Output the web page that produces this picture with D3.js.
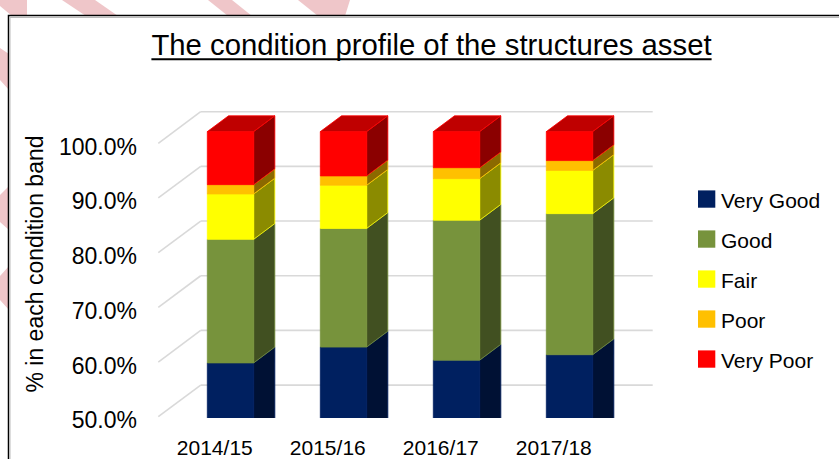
<!DOCTYPE html>
<html>
<head>
<meta charset="utf-8">
<script src="https://cdn.jsdelivr.net/npm/d3@7"></script>
<style>
  body { margin: 0; background: #fff; }
  svg { display: block; font-family: "Liberation Sans", Arial, sans-serif; }
</style>
</head>
<body>
<div id="chart"></div>
<script>
// data (% of network in each band)
const years = ["2014/15", "2015/16", "2016/17", "2017/18"];
const bands = ["Very Good", "Good", "Fair", "Poor", "Very Poor"];
const veryGood = [57.7, 60.6, 58.2, 59.2];
const good = [22.6, 21.7, 25.6, 25.8];
const fair = [8.3, 7.9, 7.6, 7.9];
const poor = [1.7, 1.7, 2.0, 1.8];
const veryPoor = [9.7, 8.1, 6.6, 5.3];
const yTicks = [0.5, 0.6, 0.7, 0.8, 0.9, 1.0];
const bandColors = ["#002060", "#77933c", "#ffff00", "#ffc000", "#ff0000"];

const width = 839;
const height = 459;

// table for d3.stack
const series = [veryGood, good, fair, poor, veryPoor];
const table = years.map((yr, i) => {
  const row = { year: yr };
  bands.forEach((b, j) => (row[b] = series[j][i] / 100));
  return row;
});
const stacked = d3.stack().keys(bands)(table);

// front plane scales + depth vector of the 3d box
const y = d3.scaleLinear().domain([0.5, 1]).range([416.7, 143.3]);
const x = d3.scaleBand().domain(years).range([158.3, 610.3]);
const depth = [42.4, -31.6];
const f0 = 0.37, f1 = 0.87; // bar depth span
const barW = x.bandwidth() * 0.41;

function P(px, v, f) {
  return [px + depth[0] * f, y(v) + depth[1] * f];
}
function shade(c, k) {
  const r = d3.rgb(c);
  return d3.rgb(r.r * k, r.g * k, r.b * k).formatHex();
}

const svg = d3
  .select("#chart")
  .append("svg")
  .attr("width", width)
  .attr("height", height)
  .attr("viewBox", [0, 0, width, height]);

// pink swoosh decoration of the page behind the chart
const pink = "#efc6c9";
const decor = [
  [[0, 0], [27, 0], [27, 16], [12, 16], [0, 6]],
  [[62, 0], [95, 0], [118, 16], [86, 16]],
  [[208, 0], [232, 0], [252, 16], [228, 16]],
  [[298, 0], [350, 0], [345, 16], [318, 16]],
  [[0, 48], [9, 54], [9, 90], [0, 80]],
  [[0, 195], [9, 186], [9, 230], [0, 222]],
  [[0, 276], [9, 266], [9, 310], [0, 300]],
];
svg
  .append("g")
  .selectAll("polygon")
  .data(decor)
  .join("polygon")
  .attr("points", (d) => d.join(" "))
  .attr("fill", pink);

// chart frame
svg.append("rect")
  .attr("x", 8.5).attr("y", 15.5)
  .attr("width", width).attr("height", height)
  .attr("fill", "#fff")
  .attr("stroke", "#000")
  .attr("stroke-width", 1.5);
svg.append("path")
  .attr("d", `M10,${height}V17.5H${width}`)
  .attr("fill", "none")
  .attr("stroke", "#bbb")
  .attr("stroke-width", 1);

// title
const title = svg.append("text")
  .attr("x", 431.5).attr("y", 55)
  .attr("text-anchor", "middle")
  .attr("font-size", 29.3)
  .attr("fill", "#000")
  .text("The condition profile of the structures asset");
const tb = title.node().getBBox();
svg.append("line")
  .attr("x1", tb.x).attr("x2", tb.x + tb.width)
  .attr("y1", 59.3).attr("y2", 59.3)
  .attr("stroke", "#000").attr("stroke-width", 2);

// gridlines: back wall and left side wall
const x0 = x.range()[0], x1 = x.range()[1];
const grid = svg.append("g")
  .attr("stroke", "#d9d9d9")
  .attr("stroke-width", 1.6)
  .attr("fill", "none");
grid.selectAll(".back")
  .data(yTicks)
  .join("line")
  .attr("class", "back")
  .attr("x1", (d) => P(x0, d, 1)[0]).attr("y1", (d) => P(x0, d, 1)[1])
  .attr("x2", (d) => P(x1, d, 1)[0]).attr("y2", (d) => P(x1, d, 1)[1]);
grid.selectAll(".side")
  .data(yTicks)
  .join("line")
  .attr("class", "side")
  .attr("x1", (d) => P(x0, d, 0)[0]).attr("y1", (d) => P(x0, d, 0)[1])
  .attr("x2", (d) => P(x0, d, 1)[0]).attr("y2", (d) => P(x0, d, 1)[1]);

// y tick labels
svg.append("g")
  .selectAll("text")
  .data(yTicks)
  .join("text")
  .attr("x", 137)
  .attr("y", (d) => y(d) + 3.5)
  .attr("dominant-baseline", "central")
  .attr("text-anchor", "end")
  .attr("font-size", 23)
  .attr("fill", "#000")
  .text(d3.format(".1%"));

// y axis title
svg.append("text")
  .attr("transform", "translate(35,264) rotate(-90)")
  .attr("text-anchor", "middle")
  .attr("dominant-baseline", "central")
  .attr("font-size", 23)
  .attr("fill", "#000")
  .text("% in each condition band");

// category labels
svg.append("g")
  .selectAll("text")
  .data(years)
  .join("text")
  .attr("x", (d) => x(d) + x.bandwidth() / 2)
  .attr("y", 447)
  .attr("dominant-baseline", "central")
  .attr("text-anchor", "middle")
  .attr("font-size", 21)
  .attr("fill", "#000")
  .text((d) => d);

// bars (clipped by the plot floor)
svg.append("clipPath").attr("id", "plotclip")
  .append("rect").attr("x", 0).attr("y", 0)
  .attr("width", width).attr("height", 418);

const bars = svg.append("g").attr("clip-path", "url(#plotclip)");
years.forEach((yr, i) => {
  const cx = x(yr) + x.bandwidth() / 2;
  const bl = cx - barW / 2, br = cx + barW / 2;
  const g = bars.append("g");
  stacked.forEach((s, j) => {
    const [v0, v1] = s[i];
    const col = bandColors[j];
    const front = [P(bl, v1, f0), P(br, v1, f0), P(br, v0, f0), P(bl, v0, f0)];
    const side = [P(br, v1, f0), P(br, v1, f1), P(br, v0, f1), P(br, v0, f0)];
    g.append("polygon")
      .attr("points", side.join(" "))
      .attr("fill", shade(col, 0.545))
      .attr("stroke", col).attr("stroke-width", 0.8)
      .attr("stroke-linejoin", "round");
    g.append("polygon")
      .attr("points", front.join(" "))
      .attr("fill", col)
      .attr("stroke", col).attr("stroke-width", 0.8);
    if (j === stacked.length - 1) {
      const top = [P(bl, v1, f0), P(br, v1, f0), P(br, v1, f1), P(bl, v1, f1)];
      g.append("polygon")
        .attr("points", top.join(" "))
        .attr("fill", shade(col, 0.75))
        .attr("stroke", col).attr("stroke-width", 0.8);
    }
  });
});

// legend
const legend = svg.append("g")
  .selectAll("g")
  .data(bands)
  .join("g")
  .attr("transform", (d, i) => `translate(698,${199 + i * 40})`);
legend.append("rect")
  .attr("x", 0).attr("y", -8.6)
  .attr("width", 17.3).attr("height", 17.3)
  .attr("fill", (d, i) => bandColors[i]);
legend.append("text")
  .attr("x", 23).attr("y", 1)
  .attr("dominant-baseline", "central")
  .attr("font-size", 21)
  .attr("fill", "#000")
  .text((d) => d);
</script>
</body>
</html>
